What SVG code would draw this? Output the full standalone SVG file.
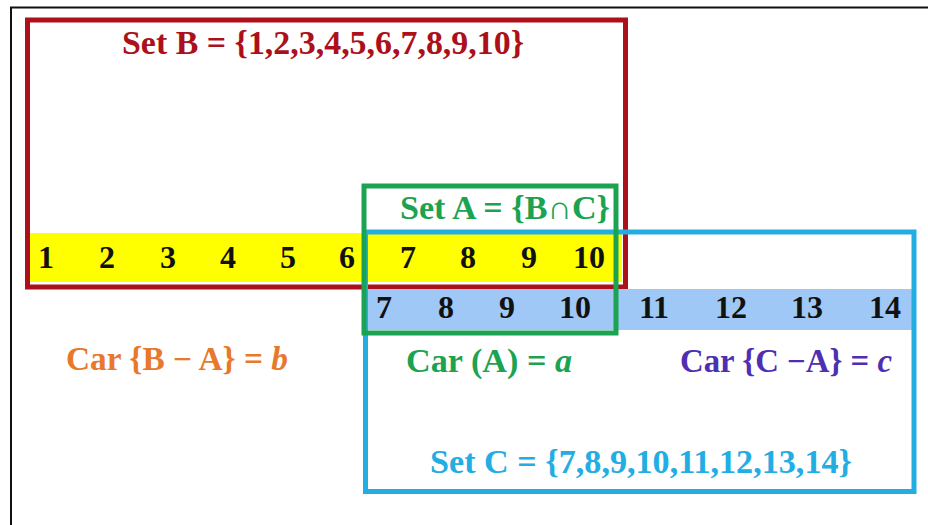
<svg xmlns="http://www.w3.org/2000/svg" width="928" height="525" viewBox="0 0 928 525">
  <style>
    .t { font-family: "Liberation Serif", "DejaVu Serif", serif; font-weight: bold; }
    .num { font-family: "Liberation Serif", "DejaVu Serif", serif; font-weight: bold; font-size: 32px; fill: #111; text-anchor: middle; }
    .box { fill: none; stroke-width: 5; }
    .it { font-style: italic; }
  </style>

  <!-- page frame -->
  <rect x="0" y="0" width="928" height="525" fill="#ffffff"/>
  <rect x="11" y="7.5" width="940" height="540" fill="none" stroke="#111" stroke-width="2"/>

  <!-- Set B -->
  <g id="set-b">
    <rect x="30" y="233" width="592" height="49" fill="#ffff00"/>
    <rect class="box" x="27.5" y="20" width="598" height="267" stroke="#ab101b"/>
    <text class="t" x="323" y="54" font-size="34" fill="#ab101b" text-anchor="middle" textLength="402" lengthAdjust="spacingAndGlyphs">Set B = {1,2,3,4,5,6,7,8,9,10}</text>
    <g class="row">
      <text class="num" x="46" y="268">1</text>
      <text class="num" x="107" y="268">2</text>
      <text class="num" x="168" y="268">3</text>
      <text class="num" x="228" y="268">4</text>
      <text class="num" x="288" y="268">5</text>
      <text class="num" x="347" y="268">6</text>
      <text class="num" x="408" y="268">7</text>
      <text class="num" x="468" y="268">8</text>
      <text class="num" x="529" y="268">9</text>
      <text class="num" x="589" y="268">10</text>
    </g>
    <text class="t" x="66" y="370" font-size="33" fill="#e8782a" textLength="222" lengthAdjust="spacingAndGlyphs">Car {B − A} = <tspan class="it">b</tspan></text>
  </g>

  <!-- Set C -->
  <g id="set-c">
    <rect x="366" y="289" width="550" height="41" fill="#9fc8f6"/>
    <rect class="box" x="365.5" y="232" width="548.5" height="259.5" stroke="#22ade3"/>
    <g class="row">
      <text class="num" x="384" y="318">7</text>
      <text class="num" x="446" y="318">8</text>
      <text class="num" x="507" y="318">9</text>
      <text class="num" x="575" y="318">10</text>
      <text class="num" x="654" y="318">11</text>
      <text class="num" x="731" y="318">12</text>
      <text class="num" x="807" y="318">13</text>
      <text class="num" x="885" y="318">14</text>
    </g>
    <text class="t" x="680" y="372" font-size="33" fill="#4e2fb3" textLength="212" lengthAdjust="spacingAndGlyphs">Car {C −A} = <tspan class="it">c</tspan></text>
    <text class="t" x="430" y="473" font-size="33" fill="#22ade3" textLength="422" lengthAdjust="spacingAndGlyphs">Set C = {7,8,9,10,11,12,13,14}</text>
  </g>

  <!-- Set A = B ∩ C -->
  <g id="set-a">
    <rect class="box" x="364" y="186" width="252" height="147" stroke="#1ba352"/>
    <text class="t" x="400" y="219" font-size="33" fill="#1ba352" textLength="210" lengthAdjust="spacingAndGlyphs">Set A = {B∩C}</text>
    <text class="t" x="406" y="372" font-size="33" fill="#1ba352" textLength="166" lengthAdjust="spacingAndGlyphs">Car (A) = <tspan class="it">a</tspan></text>
  </g>
</svg>
